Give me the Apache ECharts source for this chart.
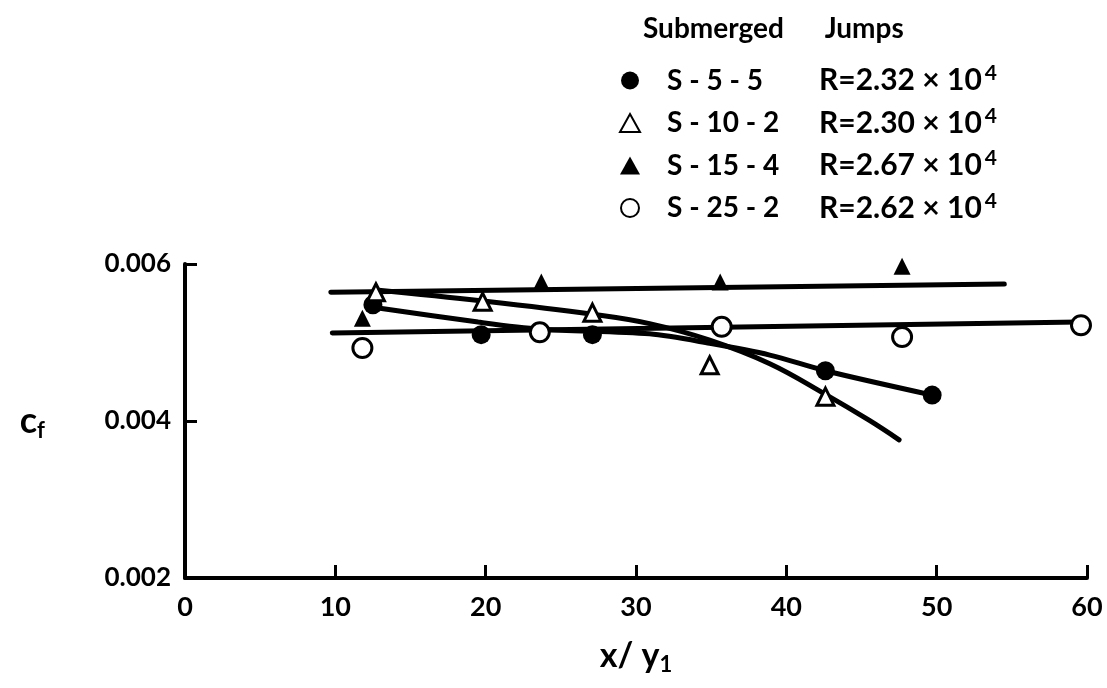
<!DOCTYPE html>
<html>
<head>
<meta charset="utf-8">
<script src="https://cdn.jsdelivr.net/npm/echarts@6/dist/echarts.min.js"></script>
<style>
  html, body { margin: 0; padding: 0; background: #fff; }
  #chart { width: 1107px; height: 688px; }
</style>
</head>
<body>
<div id="chart"></div>
<script>
// Skin-friction coefficient along submerged hydraulic jumps
const runNames = ['S-5-5', 'S-10-2', 'S-15-4', 'S-25-2'];
const reynolds = ['2.32', '2.30', '2.67', '2.62'];

// measured points [x/y1, cf]
const pointsS55  = [[12.5, 0.00548], [19.7, 0.00510], [27.1, 0.00510], [42.6, 0.00464], [49.7, 0.00433]];
const pointsS102 = [[12.7, 0.00564], [19.8, 0.00552], [27.1, 0.00538], [34.9, 0.00471], [42.6, 0.00431]];
const pointsS154 = [[11.8, 0.00531], [23.7, 0.00577], [35.6, 0.00577], [47.7, 0.00597]];
const pointsS252 = [[11.8, 0.00493], [23.6, 0.00513], [35.7, 0.00520], [47.7, 0.00507], [59.6, 0.00522]];

// faired curves through each run
const curveS55  = [[12.5, 0.00545], [19.5, 0.00526], [23.6, 0.00517], [30.9, 0.00511], [34.9, 0.00499], [38.9, 0.00484], [42.6, 0.00464], [49.7, 0.00433]];
const curveS102 = [[12.7, 0.00567], [19.8, 0.00553], [27.1, 0.00536], [30.9, 0.00524], [34.9, 0.00503], [38.9, 0.00473], [42.6, 0.00434], [45.5, 0.00401], [47.5, 0.00376]];
const curveS154 = [[9.7, 0.00564], [54.5, 0.005745]];
const curveS252 = [[9.8, 0.00512], [59.5, 0.005261]];

const xTicks = [0, 10, 20, 30, 40, 50, 60];
const yTicks = [0.002, 0.004, 0.006];

const FONT = 'Lato, "DejaVu Sans", sans-serif';
const INK = '#000';

const chart = echarts.init(document.getElementById('chart'), null, { renderer: 'canvas' });

function markerSeries(name, data, symbol, filled, size) {
  return {
    name: name,
    type: 'scatter',
    data: data,
    symbol: symbol,
    symbolSize: size,
    z: 5,
    itemStyle: {
      color: filled ? INK : '#fff',
      borderColor: INK,
      borderWidth: filled ? 0 : 3,
      opacity: 1
    }
  };
}

function curveSeries(name, data, smooth) {
  return {
    name: name,
    type: 'line',
    data: data,
    smooth: smooth,
    showSymbol: false,
    silent: true,
    z: 3,
    lineStyle: { color: INK, width: 5, cap: 'round', opacity: 1 }
  };
}

// spaced run label as printed, e.g. "S - 5 - 5"
function spaced(name) { return name.split('-').join(' - '); }

const option = {
  backgroundColor: '#fff',
  animation: false,
  title: {
    text: 'Submerged      Jumps',
    left: 638,
    top: 10,
    textStyle: { fontFamily: FONT, fontSize: 28, fontWeight: 'bold', color: INK }
  },
  legend: {
    data: runNames,
    orient: 'vertical',
    left: 614,
    top: 58,
    itemGap: 10,
    itemWidth: 20,
    itemHeight: 18,
    formatter: function (name) {
      const i = runNames.indexOf(name);
      return '{n|' + spaced(name) + '}{r|R=' + reynolds[i] + ' × 10}{s|4}';
    },
    textStyle: {
      fontFamily: FONT,
      color: INK,
      rich: {
        n: { fontFamily: FONT, fontSize: 28, fontWeight: 'bold', color: INK, width: 152, padding: [0, 0, 0, 22] },
        r: { fontFamily: FONT, fontSize: 30, fontWeight: 'bold', color: INK },
        s: { fontFamily: FONT, fontSize: 21, fontWeight: 'bold', color: INK, verticalAlign: 'top', padding: [0, 0, 14, 3] }
      }
    }
  },
  grid: { left: 185, right: 20, top: 264, bottom: 110 },
  xAxis: {
    type: 'value',
    min: xTicks[0],
    max: xTicks[xTicks.length - 1],
    interval: 10,
    name: '{a|x/ y}{b|1}',
    nameLocation: 'middle',
    nameGap: 58,
    nameTextStyle: {
      rich: {
        a: { fontFamily: FONT, fontSize: 34, fontWeight: 'bold', color: INK },
        b: { fontFamily: FONT, fontSize: 22, fontWeight: 'bold', color: INK, padding: [18, 0, 0, 0] }
      }
    },
    axisLine: { show: true, onZero: false, lineStyle: { color: INK, width: 4 } },
    axisTick: { show: true, inside: true, length: 13, lineStyle: { color: INK, width: 3 } },
    axisLabel: { margin: 16, fontFamily: FONT, fontSize: 27, fontWeight: 'bold', color: INK, showMinLabel: true, showMaxLabel: true },
    splitLine: { show: false }
  },
  yAxis: {
    type: 'value',
    min: yTicks[0],
    max: yTicks[yTicks.length - 1],
    interval: 0.002,
    name: '{a|c}{b|f}',
    nameLocation: 'middle',
    nameRotate: 0,
    nameGap: 140,
    nameTextStyle: {
      rich: {
        a: { fontFamily: FONT, fontSize: 36, fontWeight: 'bold', color: INK },
        b: { fontFamily: FONT, fontSize: 22, fontWeight: 'bold', color: INK, padding: [20, 0, 0, 0] }
      }
    },
    axisLine: { show: true, onZero: false, lineStyle: { color: INK, width: 4 } },
    axisTick: { show: true, inside: true, length: 12, lineStyle: { color: INK, width: 3 } },
    axisLabel: {
      margin: 14,
      fontFamily: FONT, fontSize: 26, fontWeight: 'bold', color: INK,
      formatter: function (v) { return v.toFixed(3); }
    },
    splitLine: { show: false }
  },
  series: [
    curveSeries('S-15-4 curve', curveS154, false),
    curveSeries('S-25-2 curve', curveS252, false),
    curveSeries('S-10-2 curve', curveS102, 0.4),
    curveSeries('S-5-5 curve', curveS55, 0.3),
    markerSeries('S-5-5', pointsS55, 'circle', true, 19),
    markerSeries('S-10-2', pointsS102, 'triangle', false, 17),
    markerSeries('S-15-4', pointsS154, 'triangle', true, 17),
    markerSeries('S-25-2', pointsS252, 'circle', false, 19)
  ]
};

chart.setOption(option);
</script>
</body>
</html>
